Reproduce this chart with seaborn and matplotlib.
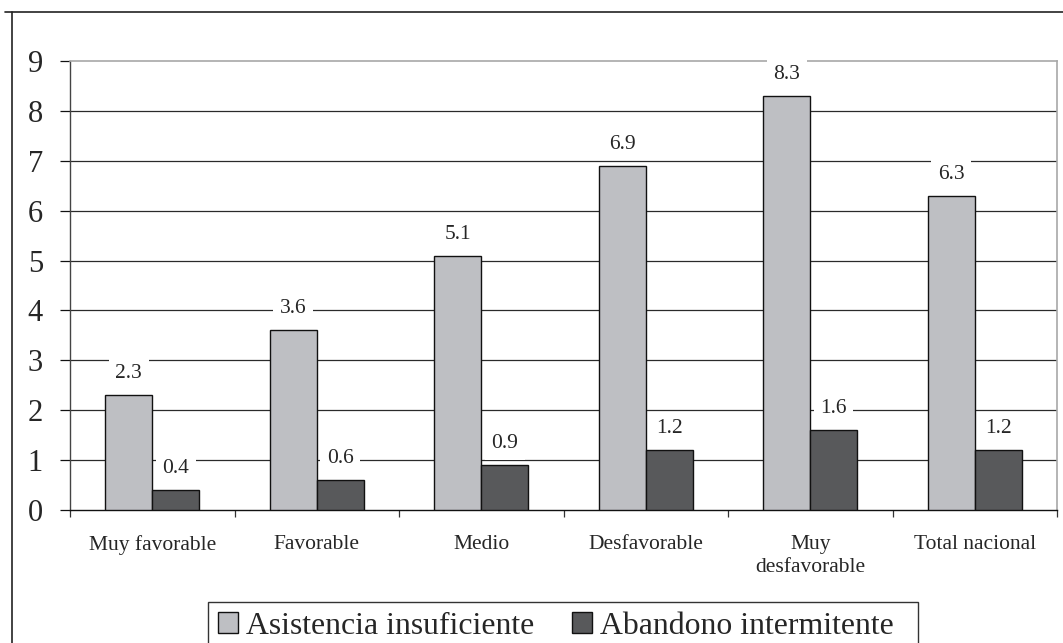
import matplotlib
matplotlib.use("Agg")
import matplotlib.pyplot as plt
from matplotlib.lines import Line2D
from matplotlib.patches import Rectangle
import numpy as np
import pandas as pd
import seaborn as sns

# Data
categories = ["Muy favorable", "Favorable", "Medio", "Desfavorable",
              "Muy\ndesfavorable", "Total nacional"]
series_names = ["Asistencia insuficiente", "Abandono intermitente"]
asistencia = [2.3, 3.6, 5.1, 6.9, 8.3, 6.3]
abandono = [0.4, 0.6, 0.9, 1.2, 1.6, 1.2]
y_ticks = [0, 1, 2, 3, 4, 5, 6, 7, 8, 9]

df = pd.DataFrame({
    "categoria": categories * 2,
    "serie": [series_names[0]] * len(categories) + [series_names[1]] * len(categories),
    "valor": asistencia + abandono,
})

sns.set_theme(style="white")
plt.rcParams["font.family"] = ["Liberation Serif", "DejaVu Serif"]

W, H = 1063, 643
fig = plt.figure(figsize=(W / 100, H / 100), dpi=100)
ax = fig.add_axes([70 / W, 1 - 510 / H, (1057 - 70) / W, (510 - 61) / H])

palette = {series_names[0]: "#BEBFC3", series_names[1]: "#58595B"}
sns.barplot(data=df, x="categoria", y="valor", hue="serie", order=categories,
            hue_order=series_names, palette=palette, width=0.572, gap=0,
            edgecolor="#111111", linewidth=1.0, saturation=1, legend=False,
            ax=ax, zorder=3)

ax.set_xlim(-0.5, len(categories) - 0.5)
ax.set_ylim(0, 9)
ax.set_xlabel("")
ax.set_ylabel("")

# Horizontal gridlines
for v in y_ticks[1:-1]:
    ax.axhline(v, color="#2a2a2a", linewidth=0.9, zorder=1)

# Spines
ax.spines["left"].set_color("#444444")
ax.spines["left"].set_linewidth(1.0)
ax.spines["bottom"].set_color("#111111")
ax.spines["bottom"].set_linewidth(1.0)
ax.spines["top"].set_color("#a8a8a8")
ax.spines["top"].set_linewidth(1.2)
ax.spines["right"].set_color("#a8a8a8")
ax.spines["right"].set_linewidth(1.2)

# Y axis ticks
ax.set_yticks(y_ticks)
ax.set_yticklabels([str(v) for v in y_ticks], fontsize=22)
ax.tick_params(axis="y", direction="out", length=7.5, width=0.9,
               color="#111111", pad=12, left=True)

# X axis: labels centred on categories, ticks at category boundaries
ax.set_xticks(range(len(categories)))
ax.set_xticklabels(categories, fontsize=15.5, linespacing=1.3)
ax.tick_params(axis="x", which="major", length=0, pad=18)
ax.set_xticks(np.arange(-0.5, len(categories), 1.0), minor=True)
ax.tick_params(axis="x", which="minor", direction="out", length=5,
               width=0.9, color="#333333", bottom=True)

# Value labels above each bar
for container, values in zip(ax.containers, [asistencia, abandono]):
    for bar, val in zip(container, values):
        ax.annotate(f"{val:.1f}",
                    (bar.get_x() + bar.get_width() / 2, val),
                    xytext=(0, 15.5), textcoords="offset points",
                    ha="center", va="center", fontsize=15.5, zorder=5,
                    bbox=dict(boxstyle="square,pad=0.3", fc="white",
                              ec="none"))

# Legend (frame drawn separately so it runs off the bottom edge)
ax.legend(ax.containers, series_names, loc="upper left",
          bbox_to_anchor=(208 / W, 1 - 602 / H),
          bbox_transform=fig.transFigure, ncol=2, fontsize=22.9,
          frameon=False, handlelength=0.63, handleheight=0.63,
          handletextpad=0.25, columnspacing=1.2, borderpad=0.3,
          borderaxespad=0)
fig.add_artist(Rectangle((208 / W, -0.02), (918 - 208) / W, (H - 602) / H + 0.02,
                         transform=fig.transFigure, fill=False,
                         edgecolor="#333333", linewidth=1.0))

# Outer frame lines
fig.add_artist(Line2D([5 / W, 1.0], [1 - 12 / H, 1 - 12 / H],
                      transform=fig.transFigure, color="#222222", linewidth=1.2))
fig.add_artist(Line2D([12 / W, 12 / W], [1 - 12 / H, 0.0],
                      transform=fig.transFigure, color="#222222", linewidth=1.2))

fig.savefig("out.png", dpi=100, facecolor="white")
